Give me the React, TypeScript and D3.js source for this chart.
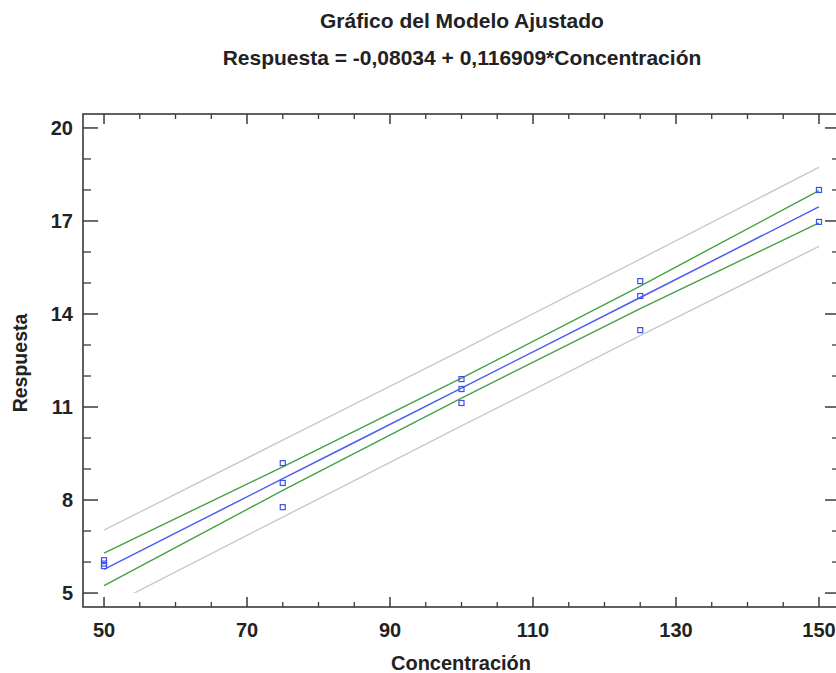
import React from "react";
import * as d3 from "d3";

const title1 = "Gráfico del Modelo Ajustado";
const title2 = "Respuesta = -0,08034 + 0,116909*Concentración";
const xLabel = "Concentración";
const yLabel = "Respuesta";

const xMajorTicks = [50, 70, 90, 110, 130, 150];
const yMajorTicks = [5, 8, 11, 14, 17, 20];

// observed points
const obsX = [50, 50, 50, 75, 75, 75, 100, 100, 100, 125, 125, 125, 150, 150];
const obsY = [6.06, 5.95, 5.87, 9.19, 8.55, 7.77, 11.9, 11.58, 11.13, 15.06, 14.58, 13.48, 18.0, 16.97];

// band curves read at these x positions
const bandX = [50, 75, 100, 125, 150];
const fitY = [5.765, 8.688, 11.611, 14.533, 17.456];
const confUpper = [6.29, 9.07, 11.93, 14.9, 17.98];
const confLower = [5.24, 8.31, 11.29, 14.17, 16.94];
const predUpper = [7.03, 9.93, 12.83, 15.77, 18.73];
const predLower = [4.5, 7.45, 10.39, 13.3, 16.18];

const W = 836;
const H = 673;
const left = 83;
const right = 840;
const top = 114;
const bottom = 607;

export default function App() {
  const x = d3.scaleLinear().domain([47.06, 152.94]).range([left, right]);
  const y = d3.scaleLinear().domain([4.55, 20.45]).range([bottom, top]);

  const line = d3
    .line<[number, number]>()
    .x((d) => x(d[0]))
    .y((d) => y(d[1]))
    .curve(d3.curveMonotoneX);
  const mk = (arr: number[]) => line(bandX.map((v, i) => [v, arr[i]] as [number, number])) || "";

  const xMinor = d3.range(50, 151, 5).filter((v) => !xMajorTicks.includes(v));
  const yMinor = d3.range(5, 21, 1).filter((v) => !yMajorTicks.includes(v));

  const axisColor = "#3a3a3a";
  const font = "'Liberation Sans', Arial, sans-serif";
  const fs = 20;

  return (
    <svg
      width={W}
      height={H}
      style={{ position: "absolute", left: 0, top: 0, background: "#fff" }}
      fontFamily={font}
    >
      <defs>
        <clipPath id="plotclip">
          <rect x={left} y={top} width={right - left} height={y(5) - top} />
        </clipPath>
      </defs>
      <text x={462} y={28} textAnchor="middle" fontSize={21} fontWeight="bold" fill="#222">
        {title1}
      </text>
      <text x={462} y={65} textAnchor="middle" fontSize={21} fontWeight="bold" fill="#222">
        {title2}
      </text>

      <g clipPath="url(#plotclip)" fill="none">
        <path d={mk(predUpper)} stroke="#c9c9c9" strokeWidth={1.4} />
        <path d={mk(predLower)} stroke="#c9c9c9" strokeWidth={1.4} />
        <path d={mk(confUpper)} stroke="#44a044" strokeWidth={1.4} />
        <path d={mk(confLower)} stroke="#44a044" strokeWidth={1.4} />
        <path d={mk(fitY)} stroke="#4b5cf2" strokeWidth={1.5} />
      </g>

      {obsX.map((v, i) => (
        <rect
          key={i}
          x={x(v) - 2.5}
          y={y(obsY[i]) - 2.5}
          width={5}
          height={5}
          fill="none"
          stroke="#3c4ff0"
          strokeWidth={1.2}
        />
      ))}

      {/* frame */}
      <rect x={left} y={top} width={right - left} height={bottom - top} fill="none" stroke={axisColor} strokeWidth={1.6} />

      {/* x ticks */}
      {xMajorTicks.map((v) => (
        <g key={"xm" + v}>
          <line x1={x(v)} x2={x(v)} y1={bottom} y2={bottom - 10} stroke={axisColor} strokeWidth={1.5} />
          <line x1={x(v)} x2={x(v)} y1={top} y2={top + 10} stroke={axisColor} strokeWidth={1.5} />
          <text x={x(v)} y={637} textAnchor="middle" fontSize={fs} fontWeight="bold" fill="#222">
            {v}
          </text>
        </g>
      ))}
      {xMinor.map((v) => (
        <g key={"xn" + v}>
          <line x1={x(v)} x2={x(v)} y1={bottom} y2={bottom - 5} stroke={axisColor} strokeWidth={1.3} />
          <line x1={x(v)} x2={x(v)} y1={top} y2={top + 5} stroke={axisColor} strokeWidth={1.3} />
        </g>
      ))}

      {/* y ticks */}
      {yMajorTicks.map((v) => (
        <g key={"ym" + v}>
          <line x1={left} x2={left + 15} y1={y(v)} y2={y(v)} stroke={axisColor} strokeWidth={1.5} />
          <line x1={right} x2={right - 15} y1={y(v)} y2={y(v)} stroke={axisColor} strokeWidth={1.5} />
          <text x={73} y={y(v) + 7} textAnchor="end" fontSize={fs} fontWeight="bold" fill="#222">
            {v}
          </text>
        </g>
      ))}
      {yMinor.map((v) => (
        <g key={"yn" + v}>
          <line x1={left} x2={left + 8} y1={y(v)} y2={y(v)} stroke={axisColor} strokeWidth={1.3} />
          <line x1={right} x2={right - 8} y1={y(v)} y2={y(v)} stroke={axisColor} strokeWidth={1.3} />
        </g>
      ))}

      <text x={461} y={670} textAnchor="middle" fontSize={fs} fontWeight="bold" fill="#222">
        {xLabel}
      </text>
      <text
        transform={`translate(27, 363) rotate(-90)`}
        textAnchor="middle"
        fontSize={19.5}
        fontWeight="bold"
        fill="#222"
      >
        {yLabel}
      </text>
    </svg>
  );
}
